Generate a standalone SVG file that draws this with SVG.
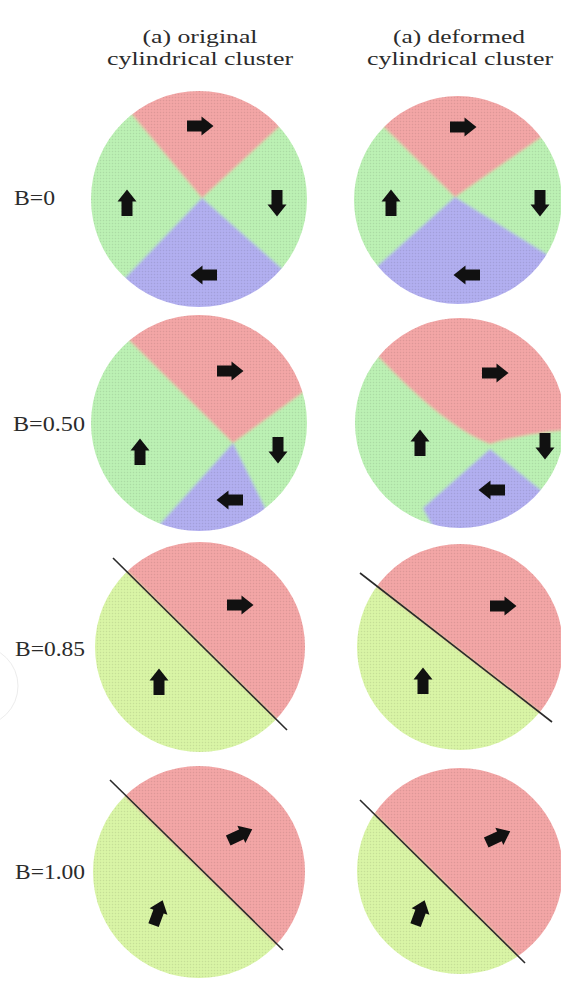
<svg xmlns="http://www.w3.org/2000/svg" width="561" height="981" viewBox="0 0 561 981">
<style>
.lbl{font-family:"Liberation Serif","Times New Roman",serif;font-size:20px;fill:#2b2b2b}
.hdr{font-family:"Liberation Serif","Times New Roman",serif;font-size:18px;fill:#2b2b2b;text-anchor:middle}
.g4{fill:#bcf1b4}
.gy{fill:#d9f5a6}
.rd{fill:#f3a6a6}
.bl{fill:#b2aff0}
.sep{stroke:#2a2a2a;stroke-width:1.6;fill:none}
.arr{fill:#111}
.tex{fill:url(#dots)}
</style>
<defs>
<filter id="soft" x="-10%" y="-10%" width="120%" height="120%"><feGaussianBlur stdDeviation="1.8"/></filter>
<filter id="edge" x="-5%" y="-5%" width="110%" height="110%"><feGaussianBlur stdDeviation="0.7"/></filter>
<pattern id="dots" width="3" height="3" patternUnits="userSpaceOnUse"><circle cx="1.5" cy="1.5" r="0.75" fill="#000" fill-opacity="0.09"/></pattern>
<path id="arrow" d="M-13,-5.5 H1.5 V-9.5 L13.5,0 L1.5,9.5 V5.5 H-13 Z"/>
<clipPath id="c1l"><circle cx="199" cy="199" r="108"/></clipPath>
<clipPath id="c1r"><circle cx="458" cy="200" r="104"/></clipPath>
<clipPath id="c2l"><circle cx="199" cy="423" r="108"/></clipPath>
<clipPath id="c2r"><circle cx="460" cy="423" r="105"/></clipPath>
<clipPath id="c3l"><circle cx="200" cy="647" r="105"/></clipPath>
<clipPath id="c3r"><circle cx="460" cy="647" r="103"/></clipPath>
<clipPath id="c4l"><circle cx="199" cy="872" r="106"/></clipPath>
<clipPath id="c4r"><circle cx="460" cy="871" r="103"/></clipPath>
</defs>
<rect width="561" height="981" fill="#ffffff"/>

<g id="watermark" fill="none" stroke="#ececec" stroke-width="1">
<circle cx="-22" cy="686" r="40"/>
</g>

<g id="headers">
<text class="hdr" x="200" y="43" textLength="115" lengthAdjust="spacingAndGlyphs">(a) original</text>
<text class="hdr" x="200" y="65" textLength="186" lengthAdjust="spacingAndGlyphs">cylindrical cluster</text>
<text class="hdr" x="459" y="43" textLength="132" lengthAdjust="spacingAndGlyphs">(a) deformed</text>
<text class="hdr" x="460" y="65" textLength="186" lengthAdjust="spacingAndGlyphs">cylindrical cluster</text>
</g>

<g id="labels">
<text class="lbl" x="14" y="205" textLength="41" lengthAdjust="spacingAndGlyphs">B=0</text>
<text class="lbl" x="13" y="431" textLength="72" lengthAdjust="spacingAndGlyphs">B=0.50</text>
<text class="lbl" x="15" y="656" textLength="70" lengthAdjust="spacingAndGlyphs">B=0.85</text>
<text class="lbl" x="15" y="879" textLength="70" lengthAdjust="spacingAndGlyphs">B=1.00</text>
</g>

<g id="panel-b0-original">
<g filter="url(#edge)"><g clip-path="url(#c1l)">
<g filter="url(#soft)">
<rect class="g4" x="80" y="80" width="240" height="240"/>
<polygon class="rd" points="202,198 58,26 58,0 364,0 364,48"/>
<polygon class="bl" points="202,198 58,348 58,400 364,400 358,336"/>
</g>
<rect class="tex" x="80" y="80" width="240" height="240"/>
</g></g>
<use href="#arrow" class="arr" transform="translate(200,126)"/>
<use href="#arrow" class="arr" transform="translate(127,203) rotate(-90)"/>
<use href="#arrow" class="arr" transform="translate(277,203) rotate(90)"/>
<use href="#arrow" class="arr" transform="translate(204,275) rotate(180)"/>
</g>

<g id="panel-b0-deformed">
<g filter="url(#edge)"><g clip-path="url(#c1r)">
<g filter="url(#soft)">
<rect class="g4" x="340" y="80" width="240" height="240"/>
<polygon class="rd" points="455,197 309,53 309,0 625,0 625,79"/>
<polygon class="bl" points="455,197 309,327 309,400 625,400 625,303"/>
</g>
<rect class="tex" x="340" y="80" width="240" height="240"/>
</g></g>
<use href="#arrow" class="arr" transform="translate(463,127)"/>
<use href="#arrow" class="arr" transform="translate(391,203) rotate(-90)"/>
<use href="#arrow" class="arr" transform="translate(540,203) rotate(90)"/>
<use href="#arrow" class="arr" transform="translate(467,275) rotate(180)"/>
</g>

<g id="panel-b050-original">
<g filter="url(#edge)"><g clip-path="url(#c2l)">
<g filter="url(#soft)">
<rect class="g4" x="80" y="300" width="240" height="240"/>
<polygon class="rd" points="233,443 31,243 31,280 371,280 371,343"/>
<polygon class="bl" points="233,443 107,583 313,605"/>
</g>
<rect class="tex" x="80" y="300" width="240" height="240"/>
</g></g>
<use href="#arrow" class="arr" transform="translate(230,371)"/>
<use href="#arrow" class="arr" transform="translate(140,452) rotate(-90)"/>
<use href="#arrow" class="arr" transform="translate(278,450) rotate(90)"/>
<use href="#arrow" class="arr" transform="translate(230,500) rotate(180)"/>
</g>

<g id="panel-b050-deformed">
<g filter="url(#edge)"><g clip-path="url(#c2r)">
<g filter="url(#soft)">
<rect class="g4" x="340" y="300" width="240" height="240"/>
<path class="rd" d="M365,342 Q440,425 490,444 Q525,432 600,427 L600,290 L340,290 L340,342 Z"/>
<polygon class="bl" points="490,449 590,530 590,600 470,600 423,508"/>
</g>
<rect class="tex" x="340" y="300" width="240" height="240"/>
</g></g>
<use href="#arrow" class="arr" transform="translate(495,373)"/>
<use href="#arrow" class="arr" transform="translate(420,443) rotate(-90)"/>
<use href="#arrow" class="arr" transform="translate(545,446) rotate(90)"/>
<use href="#arrow" class="arr" transform="translate(492,490) rotate(180)"/>
</g>

<g id="panel-b085-original">
<g filter="url(#edge)"><g clip-path="url(#c3l)">
<g filter="url(#soft)">
<rect class="gy" x="80" y="530" width="240" height="240"/>
<polygon class="rd" points="60,505 340,782 340,505"/>
</g>
<rect class="tex" x="80" y="530" width="240" height="240"/>
</g></g>
<line class="sep" x1="113" y1="558" x2="287" y2="730"/>
<use href="#arrow" class="arr" transform="translate(240,605)"/>
<use href="#arrow" class="arr" transform="translate(159,682) rotate(-90)"/>
</g>

<g id="panel-b085-deformed">
<g filter="url(#edge)"><g clip-path="url(#c3r)">
<g filter="url(#soft)">
<rect class="gy" x="340" y="530" width="240" height="240"/>
<polygon class="rd" points="300,527 612,768 612,500 300,500"/>
</g>
<rect class="tex" x="340" y="530" width="240" height="240"/>
</g></g>
<line class="sep" x1="360" y1="573" x2="552" y2="722"/>
<use href="#arrow" class="arr" transform="translate(503,606)"/>
<use href="#arrow" class="arr" transform="translate(423,681) rotate(-90)"/>
</g>

<g id="panel-b100-original">
<g filter="url(#edge)"><g clip-path="url(#c4l)">
<g filter="url(#soft)">
<rect class="gy" x="80" y="755" width="240" height="240"/>
<polygon class="rd" points="57,729 337,1004 337,729"/>
</g>
<rect class="tex" x="80" y="755" width="240" height="240"/>
</g></g>
<line class="sep" x1="110" y1="780" x2="283" y2="950"/>
<use href="#arrow" class="arr" transform="translate(240,835) rotate(-25)"/>
<use href="#arrow" class="arr" transform="translate(158,913) rotate(-70)"/>
</g>

<g id="panel-b100-deformed">
<g filter="url(#edge)"><g clip-path="url(#c4r)">
<g filter="url(#soft)">
<rect class="gy" x="340" y="755" width="240" height="240"/>
<polygon class="rd" points="310,750 590,1027 590,740 310,740"/>
</g>
<rect class="tex" x="340" y="755" width="240" height="240"/>
</g></g>
<line class="sep" x1="360" y1="800" x2="525" y2="963"/>
<use href="#arrow" class="arr" transform="translate(498,837) rotate(-25)"/>
<use href="#arrow" class="arr" transform="translate(420,913) rotate(-70)"/>
</g>
</svg>
